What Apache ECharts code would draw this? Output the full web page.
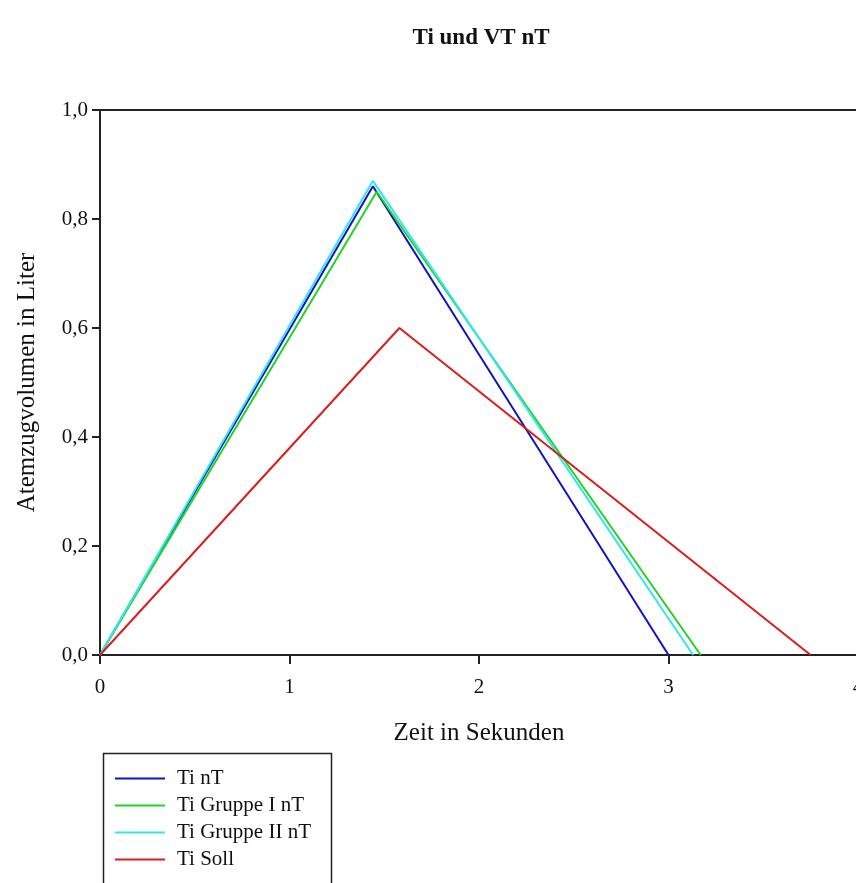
<!DOCTYPE html>
<html>
<head>
<meta charset="utf-8">
<script src="https://cdn.jsdelivr.net/npm/echarts@6/dist/echarts.min.js"></script>
<style>
html,body{margin:0;padding:0;background:#fff;}
#chart{width:856px;height:883px;}
</style>
</head>
<body>
<div id="chart"></div>
<script>
const seriesNames = ['Ti nT', 'Ti Gruppe I nT', 'Ti Gruppe II nT', 'Ti Soll'];
const xTiNT = [0, 1.44, 3.00];
const yTiNT = [0, 0.86, 0];
const xGruppeI = [0, 1.46, 3.17];
const yGruppeI = [0, 0.85, 0];
const xGruppeII = [0, 1.44, 3.13];
const yGruppeII = [0, 0.87, 0];
const xSoll = [0, 1.58, 3.75];
const ySoll = [0, 0.60, 0];
const xTicks = [0, 1, 2, 3, 4];
const yTicks = [0, 0.2, 0.4, 0.6, 0.8, 1.0];

const colors = ['#1212c4', '#22d422', '#33e6ee', '#dc1c1c'];
const xs = [xTiNT, xGruppeI, xGruppeII, xSoll];
const ys = [yTiNT, yGruppeI, yGruppeII, ySoll];
const FONT = '"Liberation Serif", "Times New Roman", serif';

const chart = echarts.init(document.getElementById('chart'), null, {renderer: 'canvas'});
const series = seriesNames.map((n, i) => ({
  name: n,
  type: 'line',
  data: xs[i].map((x, j) => [x, ys[i][j]]),
  symbol: 'none',
  lineStyle: {color: colors[i], width: 2},
  itemStyle: {color: colors[i]},
  animation: false,
  z: 2 + i
}));

chart.setOption({
  animation: false,
  backgroundColor: '#fff',
  textStyle: {fontFamily: FONT},
  grid: {left: 100, top: 110, width: 758, height: 545, containLabel: false, outerBoundsMode: 'none',
         show: true, borderColor: '#222', borderWidth: 2, backgroundColor: 'transparent'},
  xAxis: {
    type: 'value', min: xTicks[0], max: xTicks[xTicks.length - 1], interval: 1,
    name: 'Zeit in Sekunden', nameLocation: 'middle', nameGap: 66,
    nameTextStyle: {fontFamily: FONT, fontSize: 25, color: '#111'},
    axisLine: {show: true, onZero: false, lineStyle: {color: '#222', width: 2}},
    axisTick: {show: true, inside: false, length: 9, lineStyle: {color: '#222', width: 2}},
    axisLabel: {fontFamily: FONT, fontSize: 21, color: '#111', margin: 22, formatter: v => String(v)},
    splitLine: {show: false}
  },
  yAxis: {
    type: 'value', min: yTicks[0], max: yTicks[yTicks.length - 1], interval: 0.2,
    name: 'Atemzugvolumen in Liter', nameLocation: 'middle', nameGap: 60, nameRotate: 90,
    nameTextStyle: {fontFamily: FONT, fontSize: 25, color: '#111'},
    axisLine: {show: true, onZero: false, lineStyle: {color: '#222', width: 2}},
    axisTick: {show: true, inside: false, length: 8, lineStyle: {color: '#222', width: 2}},
    axisLabel: {fontFamily: FONT, fontSize: 21, color: '#111', margin: 12, formatter: v => v.toFixed(1).replace('.', ',')},
    splitLine: {show: false}
  },
  legend: {
    orient: 'vertical', left: 101, top: 768,
    padding: [0, 0, 0, 14],
    itemWidth: 50, itemHeight: 14, itemGap: 6,
    icon: 'path://M0,6 L50,6 L50,8 L0,8 Z',
    textStyle: {fontFamily: FONT, fontSize: 21, color: '#111', lineHeight: 21, padding: [0, 0, 0, 7]},
    data: seriesNames
  },
  graphic: [
    {type: 'rect', left: 101, top: 751, shape: {width: 228, height: 160}, style: {fill: 'none', stroke: '#222', lineWidth: 1.5}, z: -1},
    {type: 'text', x: 481, y: 38, style: {text: 'Ti und VT nT', font: 'bold 23px ' + FONT, fill: '#111', textAlign: 'center', textVerticalAlign: 'middle'}}
  ],
  series: series
});
</script>
</body>
</html>
